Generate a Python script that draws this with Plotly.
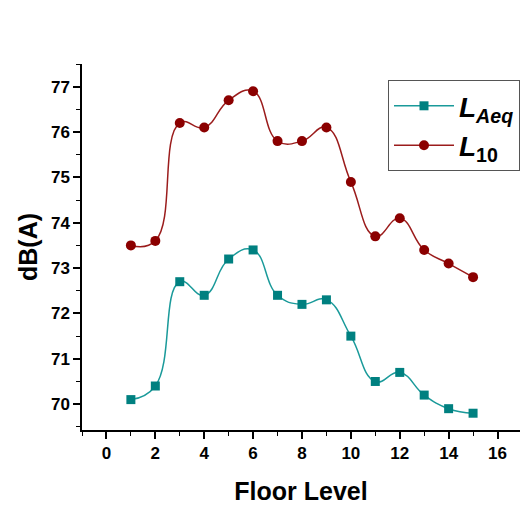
import plotly.graph_objects as go

floors = list(range(1, 16))
laeq = [70.1, 70.4, 72.7, 72.4, 73.2, 73.4, 72.4, 72.2, 72.3, 71.5, 70.5, 70.7, 70.2, 69.9, 69.8]
l10 = [73.5, 73.6, 76.2, 76.1, 76.7, 76.9, 75.8, 75.8, 76.1, 74.9, 73.7, 74.1, 73.4, 73.1, 72.8]

x_ticks = list(range(0, 17, 2))
y_ticks = list(range(70, 78))

fig = go.Figure()
fig.add_trace(go.Scatter(
    x=floors, y=laeq, mode="lines+markers",
    name="<b><i>L</i></b><sub><b><i>Aeq</i></b></sub>",
    line=dict(color="#1a9a9a", width=1.5, shape="spline", smoothing=1.3),
    marker=dict(symbol="square", size=9, color="#008080"),
))
fig.add_trace(go.Scatter(
    x=floors, y=l10, mode="lines+markers",
    name="<b><i>L</i></b><sub><b>10</b></sub>",
    line=dict(color="#9b1c1c", width=1.5, shape="spline", smoothing=1.3),
    marker=dict(symbol="circle", size=10, color="#8b0000"),
))

axis_font = dict(family="Liberation Sans, Arial", size=17, color="black", weight="bold")
fig.update_layout(
    width=523, height=508,
    margin=dict(l=82, r=3, t=64, b=78),
    plot_bgcolor="white", paper_bgcolor="white",
    font=dict(family="Liberation Sans, Arial", color="black"),
    xaxis=dict(
        range=[-1, 16.92], tickvals=x_ticks, showgrid=False, zeroline=False,
        showline=True, linecolor="black", linewidth=1.5,
        ticks="outside", ticklen=7, tickwidth=1.5, tickcolor="black",
        minor=dict(dtick=1, ticks="outside", ticklen=4, tickwidth=1.2, tickcolor="black"),
        tickfont=axis_font,
        title=dict(text="Floor Level", font=dict(size=25, weight="bold"), standoff=20),
    ),
    yaxis=dict(
        range=[69.43, 77.5], tickvals=y_ticks, showgrid=False, zeroline=False,
        showline=True, linecolor="black", linewidth=1.5,
        ticks="outside", ticklen=7, tickwidth=1.5, tickcolor="black",
        minor=dict(dtick=0.5, ticks="outside", ticklen=4, tickwidth=1.2, tickcolor="black"),
        tickfont=axis_font,
        title=dict(text="dB(A)", font=dict(size=25, weight="bold"), standoff=6),
    ),
    legend=dict(
        x=1.0, y=0.956, xanchor="right", yanchor="top",
        bordercolor="#555555", borderwidth=1, bgcolor="white",
        font=dict(size=28, color="black"), itemwidth=60,
        tracegroupgap=2,
    ),
)
fig.write_html("out.html")
